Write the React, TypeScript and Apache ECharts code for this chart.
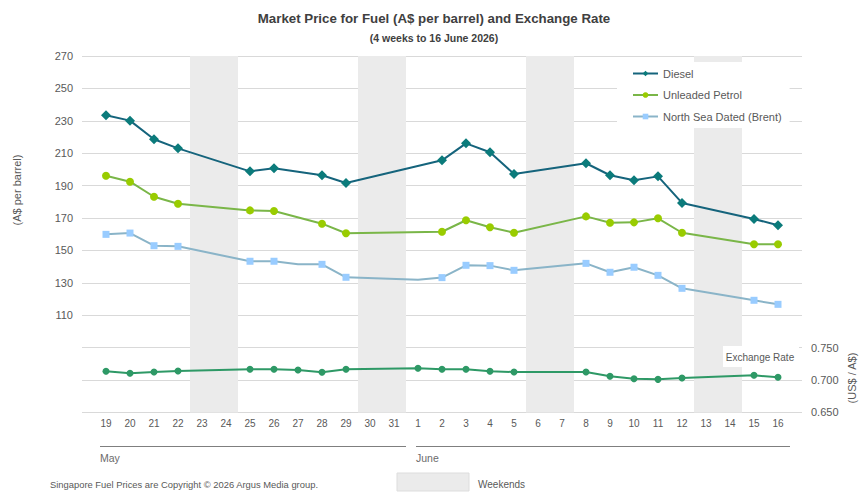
import React, { useEffect, useRef } from 'react';
import * as echarts from 'echarts';

const FONT = '"Liberation Sans", Arial, Helvetica, sans-serif';

// Day labels: 19 May .. 16 June 2026
const categories = ['19', '20', '21', '22', '23', '24', '25', '26', '27', '28', '29', '30', '31',
  '1', '2', '3', '4', '5', '6', '7', '8', '9', '10', '11', '12', '13', '14', '15', '16'];

const dieselValues = [233.4, 230.1, 218.6, 213.0, null, null, 198.8, 200.7, null, 196.4, 191.6, null, null,
  null, 205.6, 216.1, 210.6, 197.2, null, null, 203.8, 196.4, 193.3, 195.7, 179.3, null, null, 169.4, 165.5];

const petrolValues = [196.1, 192.4, 183.1, 178.8, null, null, 174.7, 174.3, null, 166.5, 160.6, null, null,
  null, 161.5, 168.6, 164.3, 160.9, null, null, 171.0, 167.1, 167.3, 169.8, 160.9, null, null, 153.8, 153.8];

const brentValues = [159.9, 160.7, 152.9, 152.5, null, null, 143.3, 143.3, 141.4, 141.4, 133.4, null, null,
  131.9, 133.2, 140.8, 140.6, 137.7, null, null, 142.0, 136.5, 139.6, 134.6, 126.6, null, null, 119.2, 116.7];
const brentUnmarked = [8, 13];

const exchangeValues = [0.7134, 0.7103, 0.7123, 0.7139, null, null, 0.7165, 0.7165, 0.7154, 0.7119, 0.7165, null, null,
  0.7180, 0.7165, 0.7165, 0.7134, 0.7123, null, null, 0.7123, 0.7057, 0.7020, 0.7010, 0.7031, null, null, 0.7072, 0.7042];

// index of each Saturday (weekend = Sat + Sun)
const weekendStarts = [4, 11, 18, 25];

const months = [
  { name: 'May', first: 0, last: 12 },
  { name: 'June', first: 13, last: 28 },
];

export default function App() {
  const ref = useRef<HTMLDivElement>(null);

  useEffect(() => {
    document.body.style.margin = '0';
    const chart = echarts.init(ref.current!, null, { renderer: 'svg' });

    const toPairs = (vals: (number | null)[], unmarked: number[] = []) =>
      vals
        .map((v, i) => {
          if (v == null) return null;
          if (unmarked.includes(i)) return { value: [i, v], symbol: 'none' };
          return [i, v];
        })
        .filter((d) => d !== null);

    const gridLeft = 82;
    const gridRight = 802;
    const gridTop = 56;
    const gridBottom = 412.4;
    const unit = (gridRight - gridLeft) / 30;
    const xOf = (i: number) => gridLeft + (i + 1) * unit;

    const graphics: any[] = [
      {
        type: 'text', x: 434, y: 18,
        style: { text: 'Market Price for Fuel (A$ per barrel) and Exchange Rate', fontSize: 13.3, fontWeight: 'bold',
          fontFamily: FONT, fill: '#404040', textAlign: 'center', textVerticalAlign: 'middle', align: 'center', verticalAlign: 'middle' },
      },
      {
        type: 'text', x: 434, y: 38,
        style: { text: '(4 weeks to 16 June 2026)', fontSize: 10.5, fontWeight: 'bold',
          fontFamily: FONT, fill: '#404040', textAlign: 'center', textVerticalAlign: 'middle', align: 'center', verticalAlign: 'middle' },
      },
      {
        type: 'text', x: 17, y: 190, rotation: Math.PI / 2,
        style: { text: '(A$ per barrel)', fontSize: 11, fontFamily: FONT, fill: '#595959',
          textAlign: 'center', textVerticalAlign: 'middle', align: 'center', verticalAlign: 'middle' },
      },
      {
        type: 'text', x: 852, y: 378, rotation: Math.PI / 2,
        style: { text: '(US$ / A$)', fontSize: 11, fontFamily: FONT, fill: '#595959',
          textAlign: 'center', textVerticalAlign: 'middle', align: 'center', verticalAlign: 'middle' },
      },
      {
        type: 'rect', z: 10, shape: { x: 723, y: 346, width: 76, height: 21 },
        style: { fill: '#ffffff' },
      },
      {
        type: 'text', z: 11, x: 760, y: 357,
        style: { text: 'Exchange Rate', fontSize: 10, fontFamily: FONT, fill: '#595959',
          textAlign: 'center', textVerticalAlign: 'middle', align: 'center', verticalAlign: 'middle' },
      },
      {
        type: 'text', x: 50, y: 484,
        style: { text: 'Singapore Fuel Prices are Copyright \u00a9 2026 Argus Media group.', fontSize: 9.4, fontFamily: FONT, fill: '#595959',
          textAlign: 'left', textVerticalAlign: 'middle', align: 'left', verticalAlign: 'middle' },
      },
      {
        type: 'rect', shape: { x: 397, y: 473, width: 72, height: 18 },
        style: { fill: '#EBEBEB', stroke: '#DDDDDD', lineWidth: 1 },
      },
      {
        type: 'text', x: 478, y: 484,
        style: { text: 'Weekends', fontSize: 10, fontFamily: FONT, fill: '#595959',
          textAlign: 'left', textVerticalAlign: 'middle', align: 'left', verticalAlign: 'middle' },
      },
    ];

    months.forEach((m, k) => {
      const x1 = xOf(m.first) - (k === 0 ? 6 : 2);
      const x2 = xOf(m.last) + 12;
      graphics.push({
        type: 'line', shape: { x1, y1: 446.5, x2, y2: 446.5 },
        style: { stroke: '#7F7F7F', lineWidth: 1 },
      });
      graphics.push({
        type: 'text', x: x1, y: 458,
        style: { text: m.name, fontSize: 10.5, fontFamily: FONT, fill: '#6B6B6B',
          textAlign: 'left', textVerticalAlign: 'middle', align: 'left', verticalAlign: 'middle' },
      });
    });

    const option: any = {
      animation: false,
      backgroundColor: '#ffffff',
      textStyle: { fontFamily: FONT },
      grid: { left: gridLeft, right: 868 - gridRight, top: gridTop, bottom: 504 - gridBottom, containLabel: false },
      legend: {
        data: ['Diesel', 'Unleaded Petrol', 'North Sea Dated (Brent)'],
        orient: 'vertical',
        left: 617,
        top: 62,
        backgroundColor: '#ffffff',
        padding: [6, 8, 6, 15],
        itemWidth: 25,
        itemHeight: 7,
        itemGap: 10.5,
        textStyle: { color: '#595959', fontSize: 11, fontFamily: FONT },
        z: 5,
      },
      xAxis: {
        type: 'value',
        min: -1,
        max: 29,
        interval: 1,
        axisLine: { show: false },
        axisTick: { show: false },
        splitLine: { show: false },
        axisLabel: {
          color: '#595959',
          fontSize: 10,
          margin: 6,
          fontFamily: FONT,
          formatter: (v: number) => (v >= 0 && v < categories.length ? categories[v] : ''),
        },
      },
      yAxis: [
        {
          type: 'value',
          min: 50,
          max: 270,
          interval: 20,
          axisLine: { show: false },
          axisTick: { show: false },
          splitLine: { show: true, lineStyle: { color: '#D9D9D9', width: 1 } },
          axisLabel: {
            color: '#595959',
            fontSize: 11,
            margin: 9,
            fontFamily: FONT,
            formatter: (v: number) => (v >= 110 ? String(v) : ''),
          },
        },
        {
          type: 'value',
          min: 0.65,
          max: 1.2,
          interval: 0.05,
          axisLine: { show: false },
          axisTick: { show: false },
          splitLine: { show: false },
          axisLabel: {
            color: '#595959',
            fontSize: 11,
            margin: 9,
            fontFamily: FONT,
            formatter: (v: number) => (v <= 0.7501 ? v.toFixed(3) : ''),
          },
        },
      ],
      series: [
        {
          name: 'weekends',
          type: 'line',
          data: [],
          silent: true,
          z: 1,
          markArea: {
            silent: true,
            itemStyle: { color: '#EBEBEB' },
            data: weekendStarts.map((s) => [{ xAxis: s - 0.5 }, { xAxis: s + 1.5 }]),
          },
        },
        {
          name: 'Diesel',
          type: 'line',
          z: 3,
          data: toPairs(dieselValues),
          symbol: 'diamond',
          symbolSize: 10,
          lineStyle: { color: '#15647C', width: 2 },
          itemStyle: { color: '#0B7B7B' },
        },
        {
          name: 'Unleaded Petrol',
          type: 'line',
          z: 3,
          data: toPairs(petrolValues),
          symbol: 'circle',
          symbolSize: 8,
          lineStyle: { color: '#7AB648', width: 2 },
          itemStyle: { color: '#99CC00' },
        },
        {
          name: 'North Sea Dated (Brent)',
          type: 'line',
          z: 3,
          data: toPairs(brentValues, brentUnmarked),
          symbol: 'rect',
          symbolSize: 7,
          lineStyle: { color: '#8AB4C8', width: 2 },
          itemStyle: { color: '#99CCFF' },
        },
        {
          name: 'Exchange Rate',
          type: 'line',
          z: 3,
          yAxisIndex: 1,
          data: toPairs(exchangeValues),
          symbol: 'circle',
          symbolSize: 7,
          lineStyle: { color: '#2E9966', width: 2 },
          itemStyle: { color: '#2E9966' },
        },
      ],
      graphic: graphics,
    };

    chart.setOption(option);
    return () => chart.dispose();
  }, []);

  return <div ref={ref} style={{ width: 868, height: 504 }} />;
}
